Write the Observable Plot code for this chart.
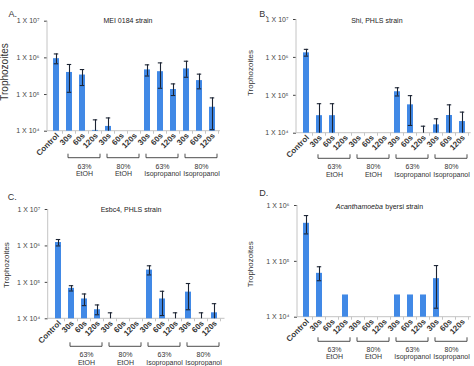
<!DOCTYPE html>
<html><head><meta charset="utf-8">
<script src="https://cdn.jsdelivr.net/npm/d3@7"></script>
<script src="https://cdn.jsdelivr.net/npm/@observablehq/plot@0.6"></script>
<style>
html,body{margin:0;padding:0;background:#fff;}
#root{position:relative;width:474px;height:366px;overflow:hidden;background:#fff;}
.panel{position:absolute;width:237px;height:183px;}
</style></head><body><div id="root"></div>
<script>
// ---------- data ----------
const barLabels = ["Control","30s","60s","120s","30s","60s","120s","30s","60s","120s","30s","60s","120s"];
const groupNames = ["63%\nEtOH","80%\nEtOH","63%\nIsopropanol","80%\nIsopropanol"];
const groupFirst = [1, 4, 7, 10];
const tickLabels = ["1 X 10⁴","1 X 10⁵","1 X 10⁶","1 X 10⁷"];
const ticksABC = [1e4, 1e5, 1e6, 1e7];
const ticksD = [1e4, 1e5, 1e6];

// Panel A: MEI 0184 strain
const meanA = [9.5e5, 4.0e5, 3.4e5, 1.05e4, 1.35e4, null, null, 4.7e5, 4.2e5, 1.37e5, 5.0e5, 2.4e5, 4.5e4];
const lowA  = [6.9e5, 1.15e5, 1.76e5, 1.0e4, 1.0e4, null, null, 3.2e5, 1.48e5, 9.4e4, 2.96e5, 1.43e5, 1.1e4];
const highA = [1.28e6, 6.6e5, 4.8e5, 2.04e4, 2.3e4, null, null, 6.45e5, 7.3e5, 1.95e5, 8.1e5, 3.6e5, 8.1e4];
// Panel B: Shi, PHLS strain
const meanB = [1.32e6, 2.9e4, 2.9e4, null, null, null, null, 1.24e5, 5.6e4, null, 1.66e4, 2.93e4, 2.03e4];
const lowB  = [1.08e6, 1.0e4, 1.0e4, null, null, null, null, 9.6e4, 1.6e4, 1.0e4, 1.0e4, 1.0e4, 1.0e4];
const highB = [1.63e6, 6.0e4, 6.0e4, null, null, null, null, 1.58e5, 9.8e4, 1.53e4, 2.4e4, 5.6e4, 3.6e4];
// Panel C: Esbc4, PHLS strain
const meanC = [1.24e6, 6.85e4, 3.5e4, 1.77e4, null, null, null, 2.17e5, 3.5e4, null, 5.4e4, null, 1.46e4];
const lowC  = [1.0e6, 5.8e4, 2.3e4, 1.29e4, 1.0e4, null, null, 1.6e5, 1.23e4, 1.0e4, 1.77e4, 1.0e4, 1.0e4];
const highC = [1.5e6, 8.1e4, 4.8e4, 2.4e4, 1.46e4, null, null, 2.85e5, 5.7e4, 1.46e4, 9.3e4, 1.46e4, 2.6e4];
// Panel D: Acanthamoeba byersi strain
const meanD = [4.8e5, 6.1e4, null, 2.5e4, null, null, null, 2.5e4, 2.5e4, 2.5e4, 4.9e4, null, null];
const lowD  = [3.1e5, 4.5e4, null, null, null, null, null, null, null, null, 1.45e4, null, null];
const highD = [6.6e5, 8.0e4, null, null, null, null, null, null, null, null, 8.4e4, null, null];

// ---------- style ----------
const FONT = '"Liberation Sans", Arial, Helvetica, sans-serif';
const BAR = "#4189e6";
const ERR = "#1c2433";
const AXIS = "#c4c4c4";
const keys = d3.range(barLabels.length);

function decorations(bracketGap) {
  return (index, scales, values, dimensions) => {
    const x = scales.x;
    const bw = typeof x.bandwidth === "function" ? x.bandwidth() : 0;
    const step = typeof x.step === "function" ? x.step() : bw;
    const cx = k => x(k) + bw / 2;
    const {width, height, marginLeft, marginRight, marginTop, marginBottom} = dimensions;
    const base = height - marginBottom;
    const g = d3.create("svg:g");
    g.append("line").attr("x1", marginLeft).attr("x2", marginLeft)
      .attr("y1", marginTop).attr("y2", base).attr("stroke", AXIS);
    g.append("line").attr("x1", marginLeft).attr("x2", width - marginRight)
      .attr("y1", base).attr("y2", base).attr("stroke", AXIS);
    for (const k of keys) {
      const bx = cx(k) + step / 2;
      g.append("line").attr("x1", bx).attr("x2", bx).attr("y1", base).attr("y2", base + 3).attr("stroke", AXIS);
    }
    for (const f of groupFirst) {
      const x1 = cx(f) - 1, x2 = cx(f + 2) + 5, yy = base + bracketGap;
      g.append("path").attr("d", `M${x1},${yy - 4}V${yy}H${x2}V${yy - 4}`)
        .attr("fill", "none").attr("stroke", "#3a3a3a").attr("stroke-width", 0.9);
    }
    return g.node();
  };
}

function panel(cfg) {
  const rows = keys.map(k => ({key: k, mean: cfg.mean[k], low: cfg.low[k], high: cfg.high[k]}));
  const lo = cfg.domain[0];
  const bars = rows.filter(d => d.mean != null);
  const errs = rows.filter(d => d.high != null);
  const lowCaps = errs.filter(d => d.low > lo * 1.05);
  const tOpts = {frameAnchor: "top", dy: cfg.titleDy, lineAnchor: "middle", fontSize: 7, fill: "#222"};
  const titleMarks = cfg.titleItalic
    ? [Plot.text([cfg.titleItalic], {...tOpts, dx: cfg.titleDx - 1, textAnchor: "end", fontStyle: "italic"}),
       Plot.text([cfg.title], {...tOpts, dx: cfg.titleDx + 1.5, textAnchor: "start"})]
    : [Plot.text([cfg.title], {...tOpts, dx: cfg.titleDx, textAnchor: "middle"})];
  return Plot.plot({
    width: 237, height: 183,
    marginLeft: cfg.m[0], marginTop: cfg.m[1], marginRight: cfg.m[2], marginBottom: cfg.m[3],
    style: {fontFamily: FONT, fontSize: "7px", color: "#444", background: "#fff", overflow: "visible"},
    x: {type: "band", domain: keys, paddingInner: 0.57, paddingOuter: 0.285, axis: null},
    y: {type: "log", domain: cfg.domain, ticks: cfg.ticks, tickSize: 3, tickPadding: 5, label: null,
        tickFormat: d => tickLabels[Math.round(Math.log10(d)) - 4]},
    marks: [
      decorations(cfg.bracketGap),
      Plot.barY(bars, {x: "key", y1: lo, y2: "mean", fill: BAR}),
      Plot.ruleX(errs, {x: "key", y1: "low", y2: "high", stroke: ERR, strokeWidth: 1.1}),
      Plot.tickY(errs, {x: "key", y: "high", stroke: ERR, strokeWidth: 1.1, insetLeft: 0.8, insetRight: 0.8}),
      Plot.tickY(lowCaps, {x: "key", y: "low", stroke: ERR, strokeWidth: 1.1, insetLeft: 0.8, insetRight: 0.8}),
      Plot.text(keys, {x: d => d, text: d => barLabels[d], frameAnchor: "bottom", rotate: -45,
        textAnchor: "end", lineAnchor: "bottom", dx: 3, dy: 5, fontWeight: "bold", fontSize: 8, fill: "#333"}),
      Plot.text(groupFirst, {x: d => d + 1, text: (d, i) => groupNames[i], frameAnchor: "bottom",
        dx: 2, dy: cfg.groupDy, textAnchor: "middle", lineAnchor: "middle", lineHeight: 1.12, fontSize: 7, fill: "#333"}),
      ...titleMarks,
      Plot.text([cfg.letter], {frameAnchor: "top-left", dx: cfg.letterPos[0], dy: cfg.letterPos[1],
        textAnchor: "start", lineAnchor: "middle", fontSize: 9, fill: "#333"}),
      Plot.text(["Trophozoites"], {frameAnchor: "left", dx: cfg.ylab[0], dy: cfg.ylab[1], rotate: -90,
        textAnchor: "middle", lineAnchor: "middle", fontSize: cfg.ylabSize, fill: "#333"})
    ]
  });
}

const panels = [
  {pos: [0, 0], mean: meanA, low: lowA, high: highA, domain: [1e4, 1e7], ticks: ticksABC,
   m: [47, 20.7, 17, 52.3], title: "MEI 0184 strain", titleDx: -6, titleDy: -0.7,
   letter: "A.", letterPos: [-39, -7.4], ylab: [-42.5, -4.2], ylabSize: 10, bracketGap: 27, groupDy: 38.8},
  {pos: [237, 0], mean: meanB, low: lowB, high: highB, domain: [1e4, 1e7], ticks: ticksABC,
   m: [59, 19, 3.3, 50.3], title: "Shi, PHLS strain", titleDx: -7, titleDy: 1,
   letter: "B.", letterPos: [-37.3, -5.7], ylab: [-46, -3.3], ylabSize: 8, bracketGap: 25.6, groupDy: 37.3},
  {pos: [0, 183], mean: meanC, low: lowC, high: highC, domain: [1e4, 1e7], ticks: ticksABC,
   m: [47.7, 26, 12.5, 47.7], title: "Esbc4, PHLS strain", titleDx: -5.6, titleDy: 0,
   letter: "C.", letterPos: [-40.4, -12.7], ylab: [-41.4, 1], ylabSize: 8, bracketGap: 28, groupDy: 39.3},
  {pos: [237, 183], mean: meanD, low: lowD, high: highD, domain: [1e4, 1e6], ticks: ticksD,
   m: [60, 22, 3.2, 49.3], titleItalic: "Acanthamoeba", title: "byersi strain", titleDx: -0.6, titleDy: 1.3,
   letter: "D.", letterPos: [-38.3, -12], ylab: [-47.3, 3], ylabSize: 8, bracketGap: 24.6, groupDy: 35.8}
];

const root = document.getElementById("root");
for (const cfg of panels) {
  const div = document.createElement("div");
  div.className = "panel";
  div.style.left = cfg.pos[0] + "px";
  div.style.top = cfg.pos[1] + "px";
  div.appendChild(panel(cfg));
  root.appendChild(div);
}
</script></body></html>
